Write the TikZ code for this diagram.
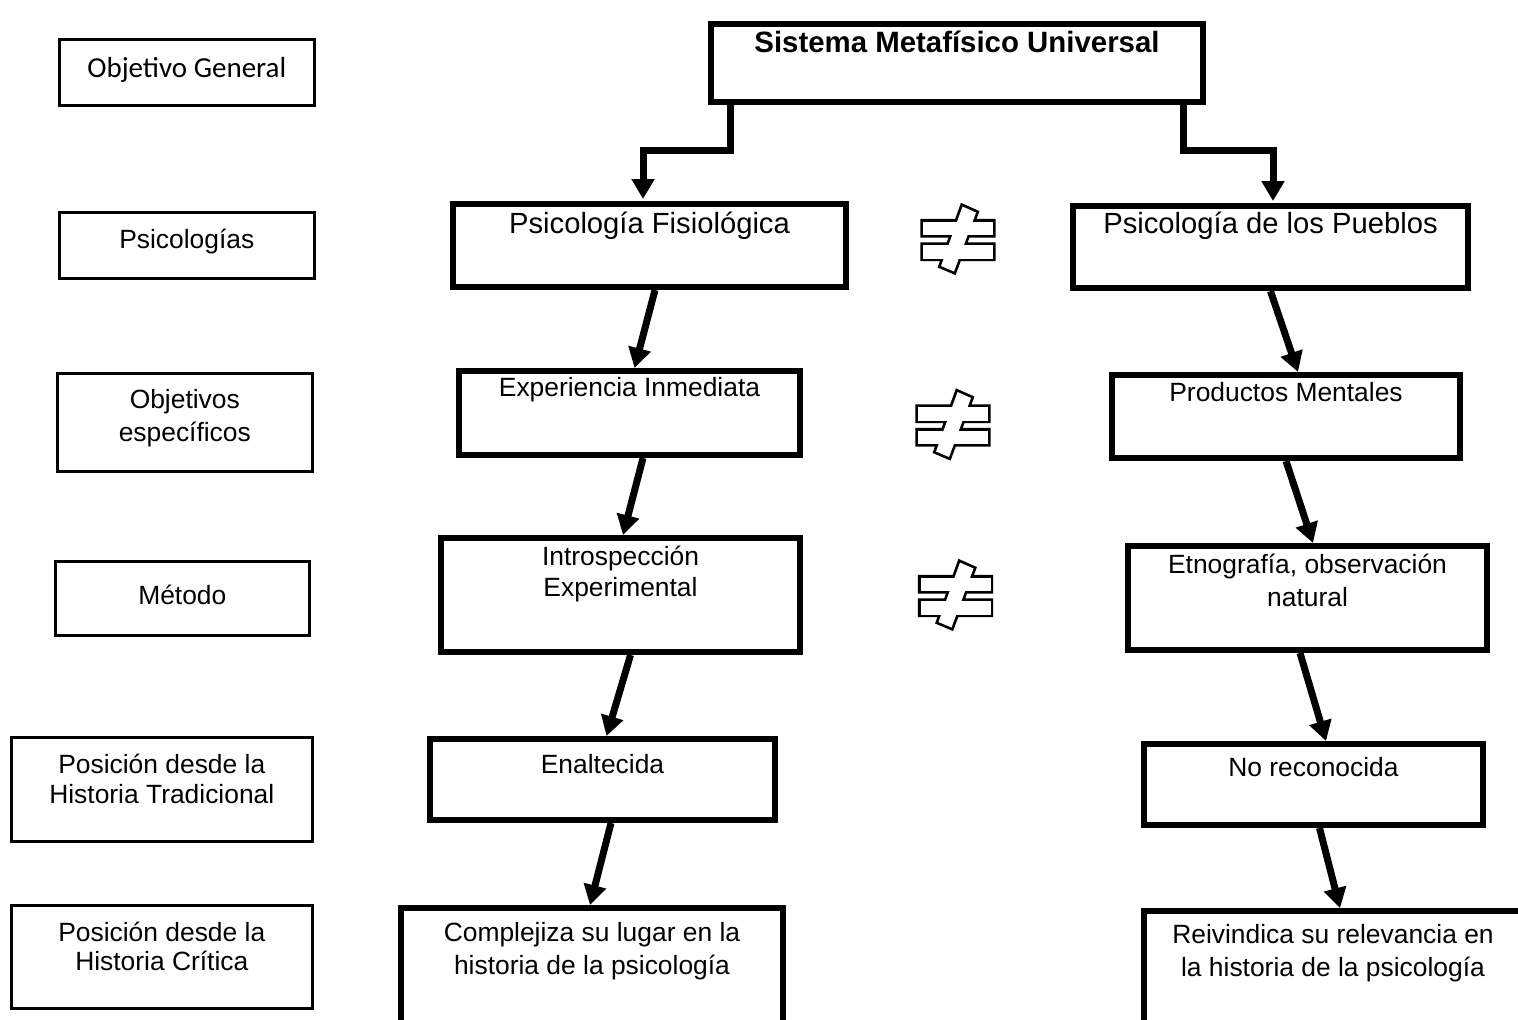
\documentclass[tikz,border=0pt]{standalone}
\usepackage{fontspec}
\setmainfont{Liberation Sans}
\newfontfamily\calibri{Carlito}
\usetikzlibrary{arrows.meta,calc}

\tikzset{
  neq/.pic={
    \draw[line width=2.7pt] (-35,-18.5) rectangle (35,-5) (-35,5) rectangle (35,18.5)
      (4.5,-33.5) -- (18,-27.5) -- (-4,31.5) -- (-17,26) -- cycle;
    \fill[white] (-35,-18.5) rectangle (35,-5);
    \fill[white] (-35,5) rectangle (35,18.5);
    \fill[white] (4.5,-33.5) -- (18,-27.5) -- (-4,31.5) -- (-17,26) -- cycle;
  }
}

\begin{document}
\begin{tikzpicture}[
  x=0.5pt, y=-0.5pt,
  side/.style={draw, line width=1.3pt, align=center, anchor=north west, inner ysep=0pt, font=\fontsize{13.2}{15.5}\selectfont},
  block/.style={draw, line width=3pt, align=center, anchor=north west, inner ysep=0pt, font=\fontsize{13.2}{16.5}\selectfont},
  big/.style={font=\fontsize{14.6}{17}\selectfont},
  arr/.style={-{Triangle[length=10pt,width=11pt]}, line width=3.5pt}
]
\fill[white] (0,0) rectangle (1518,1019);
\useasboundingbox (0,0) rectangle (1518,1019);

\node[side, font=\calibri\fontsize{14.5}{17}\selectfont, minimum width=127.5pt, text height=19pt, text depth=14pt] (objgen) at (58,38) {Objetivo General};
\node[side, minimum width=127.5pt, text height=17.85pt, text depth=15.15pt] (psicos) at (58,211) {Psicologías};
\node[side, font=\fontsize{13.2}{16.5}\selectfont, minimum width=127.5pt, text height=34pt, text depth=15pt] (objesp) at (56,372) {Objetivos\\específicos};
\node[side, minimum width=127pt, text height=21.5pt, text depth=15.5pt] (metodo) at (54,560) {Método};
\node[side, font=\fontsize{13.2}{15}\selectfont, minimum width=150.5pt, text height=32.85pt, text depth=19.15pt] (postrad) at (10,736) {Posición desde la\\Historia Tradicional};
\node[side, font=\fontsize{13.2}{14.5}\selectfont, minimum width=150.5pt, text height=32.5pt, text depth=19pt] (poscrit) at (10,904) {Posición desde la\\Historia Crítica};

\node[block, font=\bfseries\fontsize{14.7}{17}\selectfont, minimum width=246pt, text height=14pt, text depth=25pt] (top) at (708,21) {Sistema Metafísico Universal};
\node[block, big, minimum width=196.5pt, text height=14.5pt, text depth=27pt] (fisio) at (450,201) {Psicología Fisiológica};
\node[block, big, minimum width=197.5pt, text height=13.9pt, text depth=27.2pt] (pueblos) at (1070,203) {Psicología de los Pueblos};
\node[block, minimum width=170.5pt, text height=12.5pt, text depth=29.5pt] (exper) at (456,368) {Experiencia Inmediata};
\node[block, minimum width=174pt, text height=13pt, text depth=28.5pt] (product) at (1109,372) {Productos Mentales};
\node[block, font=\fontsize{13.2}{15.2}\selectfont, minimum width=179.5pt, text height=29pt, text depth=28pt] (intro) at (438,535) {Introspección\\Experimental};
\node[block, minimum width=179.5pt, text height=30pt, text depth=22pt] (etno) at (1125,543) {Etnografía, observación\\natural};
\node[block, minimum width=172.5pt, text height=17pt, text depth=23.5pt] (enalt) at (427,736) {Enaltecida};
\node[block, minimum width=169.5pt, text height=16pt, text depth=24.5pt] (norec) at (1141,741) {No reconocida};
\node[block, minimum width=191pt, text height=33.35pt, text depth=34.15pt] (complej) at (398,905) {Complejiza su lugar en la\\historia de la psicología};
\node[block, minimum width=189pt, text height=32.5pt, text depth=33.5pt] (reivind) at (1141,908) {Reivindica su relevancia en\\la historia de la psicología};

\foreach \x/\y in {958/240, 953/425.5, 955.5/596}
  \pic at (\x,\y) {neq};

\draw[arr] ($(top.south)+(-227,0)$) -- ++(0,45) -| ($(fisio.north)+(-6.5,-2)$);
\draw[arr] ($(top.south)+(226,0)$) -- ++(0,45) -| ($(pueblos.north)+(2.5,-2)$);
\draw[arr] ($(fisio.south)+(5.5,0)$) -- ($(exper.north)+(5,0)$);
\draw[arr] (pueblos.south) -- ($(product.north)+(12,0)$);
\draw[arr] ($(exper.south)+(13.5,0)$) -- ($(intro.north)+(2.5,0)$);
\draw[arr] (product.south) -- ($(etno.north)+(5.5,0)$);
\draw[arr] ($(intro.south)+(10,0)$) -- ($(enalt.north)+(4,0)$);
\draw[arr] ($(etno.south)+(-7.5,0)$) -- ($(norec.north)+(12.5,0)$);
\draw[arr] ($(enalt.south)+(8.5,0)$) -- ($(complej.north)+(-2,0)$);
\draw[arr] ($(norec.south)+(6,0)$) -- ($(reivind.north)+(7,0)$);
\end{tikzpicture}
\end{document}
